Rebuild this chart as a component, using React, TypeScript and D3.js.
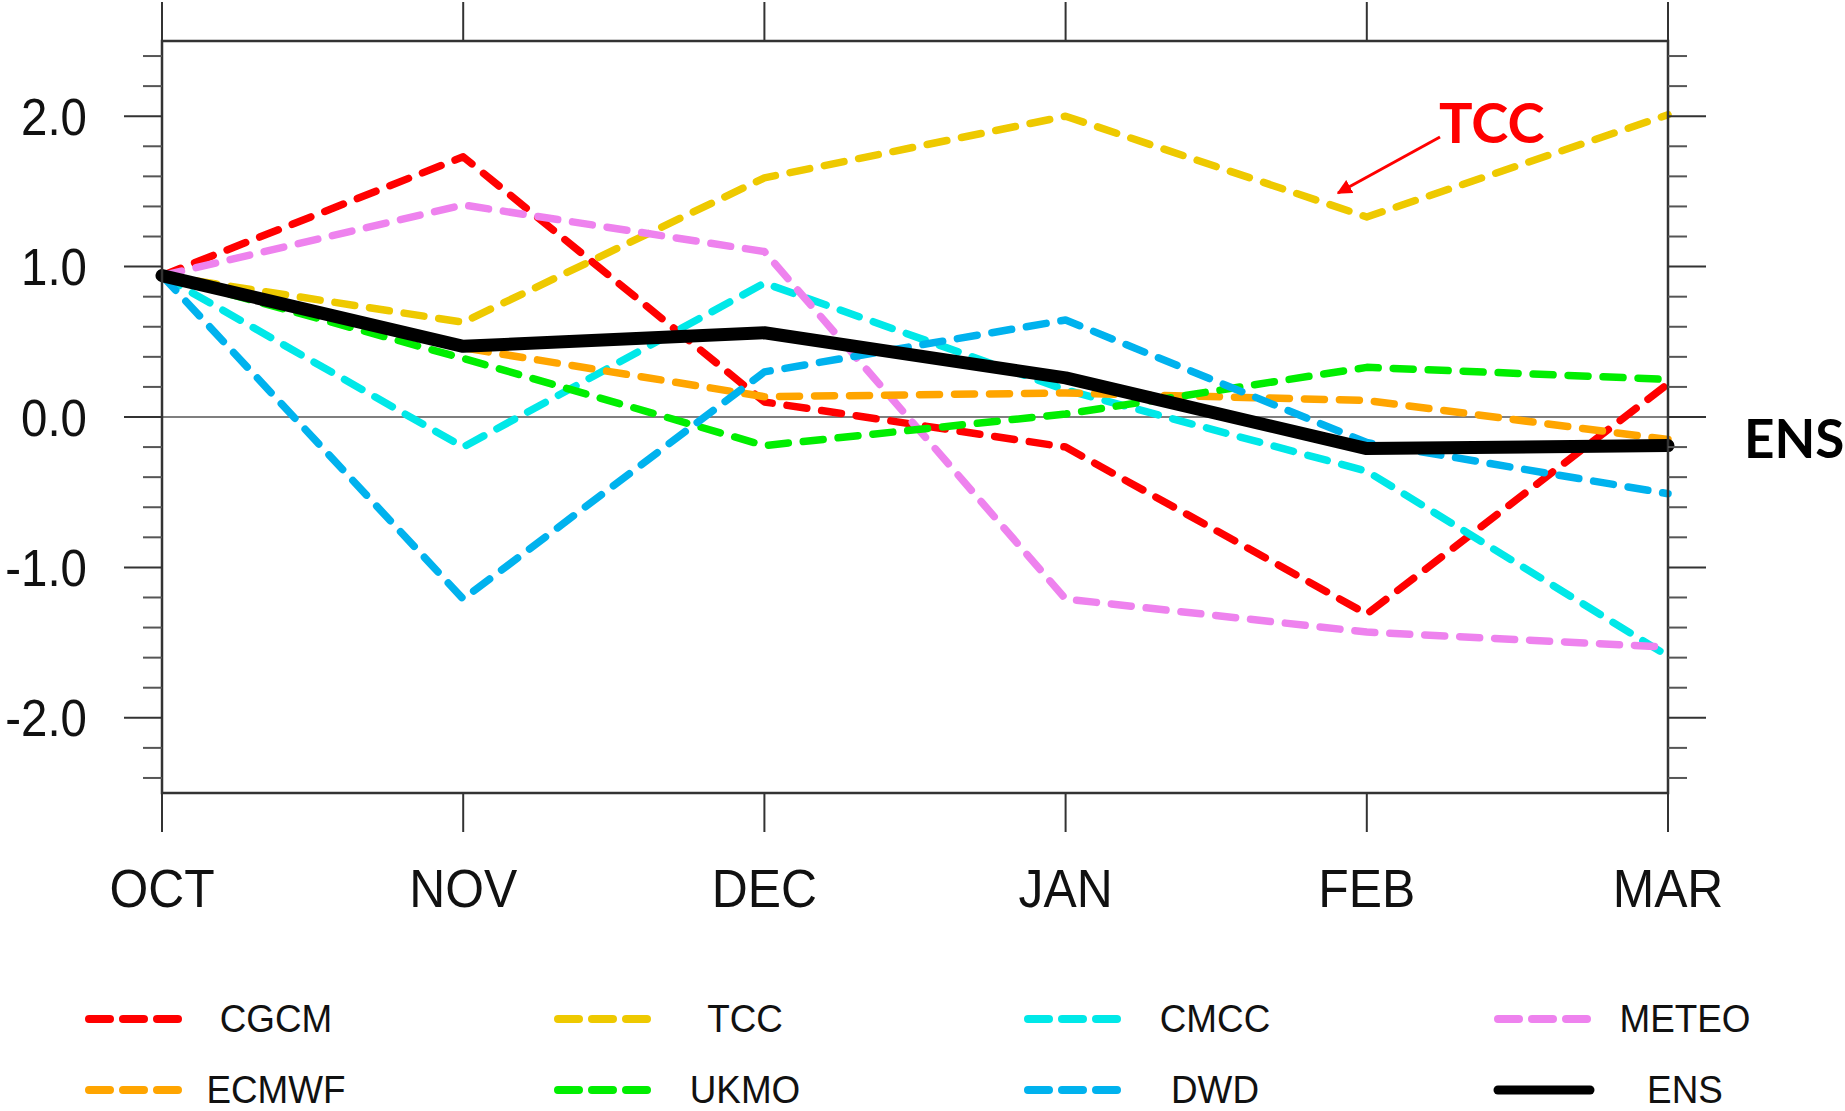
import React from "react";
import * as d3 from "d3";

const months = ["OCT", "NOV", "DEC", "JAN", "FEB", "MAR"];
const yTicksMajor = [-2, -1, 0, 1, 2];
const yTickLabels = ["-2.0", "-1.0", "0.0", "1.0", "2.0"];

const seriesNames = ["CGCM", "TCC", "CMCC", "METEO", "ECMWF", "UKMO", "DWD", "ENS"];
const seriesColors = ["#ff0000", "#eec900", "#00e8e8", "#ee82ee", "#ffa500", "#00ee00", "#00b2ee", "#000000"];

const CGCM = [0.94, 1.73, 0.1, -0.2, -1.31, 0.22];
const TCC = [0.94, 0.63, 1.59, 2.0, 1.33, 2.01];
const CMCC = [0.94, -0.2, 0.89, 0.18, -0.36, -1.59];
const METEO = [0.94, 1.41, 1.1, -1.21, -1.43, -1.53];
const ECMWF = [0.94, 0.46, 0.135, 0.16, 0.11, -0.15];
const UKMO = [0.94, 0.39, -0.19, 0.02, 0.33, 0.25];
const DWD = [0.94, -1.21, 0.3, 0.645, -0.17, -0.51];
const ENS = [0.94, 0.47, 0.56, 0.26, -0.21, -0.19];

const seriesValues = [CGCM, TCC, CMCC, METEO, ECMWF, UKMO, DWD, ENS];

const W = 1845;
const H = 1111;
const L = 162;
const R = 1668;
const T = 41;
const B = 793;

export default function App() {
  const x = d3.scalePoint<string>().domain(months).range([L, R]);
  const y = d3.scaleLinear().domain([-2.5, 2.5]).range([B, T]);
  const line = d3
    .line<number>()
    .x((_, i) => x(months[i]) as number)
    .y((d) => y(d));

  const minorTicks = d3.range(-24, 25, 2).map((v) => v / 10).filter((v) => Math.abs(Math.round(v) - v) > 1e-6);
  const axisColor = "#333";
  const font = "'Liberation Sans', Arial, Helvetica, sans-serif";

  const legendCols = [85, 554, 1024, 1494];
  const legendRows = [1019, 1090];

  return (
    <svg
      width={W}
      height={H}
      style={{ position: "absolute", left: 0, top: 0, background: "#fff" }}
      viewBox={`0 0 ${W} ${H}`}
    >
      <rect x={0} y={0} width={W} height={H} fill="#fff" />
      {/* zero line */}
      <line x1={L} x2={R} y1={y(0)} y2={y(0)} stroke="#555" strokeWidth={1.6} />

      {/* series */}
      {seriesValues.map((vals, i) => {
        const isEns = seriesNames[i] === "ENS";
        return (
          <path
            key={seriesNames[i]}
            d={line(vals) || ""}
            fill="none"
            stroke={seriesColors[i]}
            strokeWidth={isEns ? 13 : 7.5}
            strokeDasharray={isEns ? undefined : "20 15"}
            strokeLinecap="round"
            strokeLinejoin="round"
          />
        );
      })}

      {/* frame */}
      <rect x={L} y={T} width={R - L} height={B - T} fill="none" stroke={axisColor} strokeWidth={2.5} />

      {/* x ticks top & bottom */}
      {months.map((m) => (
        <g key={m}>
          <line x1={x(m)} x2={x(m)} y1={T} y2={T - 39} stroke={axisColor} strokeWidth={2} />
          <line x1={x(m)} x2={x(m)} y1={B} y2={B + 39} stroke={axisColor} strokeWidth={2} />
          <text
            transform={`translate(${x(m)},907) scale(0.94,1)`}
            textAnchor="middle"
            fontFamily={font}
            fontSize={53}
            fill="#111"
          >
            {m}
          </text>
        </g>
      ))}

      {/* y ticks left & right */}
      {yTicksMajor.map((v, i) => (
        <g key={v}>
          <line x1={L} x2={L - 38} y1={y(v)} y2={y(v)} stroke={axisColor} strokeWidth={2} />
          <line x1={R} x2={R + 38} y1={y(v)} y2={y(v)} stroke={axisColor} strokeWidth={2} />
          <text
            transform={`translate(87,${y(v) + 18.5}) scale(0.93,1)`}
            textAnchor="end"
            fontFamily={font}
            fontSize={51}
            fill="#111"
          >
            {yTickLabels[i]}
          </text>
        </g>
      ))}
      {minorTicks.map((v) => (
        <g key={"m" + v}>
          <line x1={L} x2={L - 19} y1={y(v)} y2={y(v)} stroke="#555" strokeWidth={2} />
          <line x1={R} x2={R + 19} y1={y(v)} y2={y(v)} stroke="#555" strokeWidth={2} />
        </g>
      ))}

      {/* annotations */}
      <defs>
        <marker id="arrowRed" viewBox="0 0 10 10" refX="9" refY="5" markerWidth="5" markerHeight="5" orient="auto">
          <path d="M0,0 L10,5 L0,10 z" fill="#ff0000" />
        </marker>
      </defs>
      <line x1={1440} y1={137} x2={1338} y2={193} stroke="#ff0000" strokeWidth={3} markerEnd="url(#arrowRed)" />
      <text x={1439} y={143} fontFamily="Lato, 'Open Sans', sans-serif" fontWeight="bold" fontSize={56} fill="#ff0000">
        TCC
      </text>
      <text x={1744} y={458} fontFamily="Lato, 'Open Sans', sans-serif" fontWeight="bold" fontSize={53} fill="#000">
        ENS
      </text>

      {/* legend */}
      {seriesNames.map((name, i) => {
        const col = i % 4;
        const row = Math.floor(i / 4);
        const lx = legendCols[col];
        const ly = legendRows[row];
        const isEns = name === "ENS";
        return (
          <g key={"lg" + name}>
            <line
              x1={lx + 4}
              x2={lx + 96}
              y1={ly}
              y2={ly}
              stroke={seriesColors[i]}
              strokeWidth={isEns ? 9 : 8}
              strokeDasharray={isEns ? undefined : "21 13"}
              strokeLinecap="round"
            />
            <text
              transform={`translate(${lx + 191},${ly + 13}) scale(0.97,1)`}
              textAnchor="middle"
              fontFamily={font}
              fontSize={38}
              fill="#111"
            >
              {name}
            </text>
          </g>
        );
      })}
    </svg>
  );
}
